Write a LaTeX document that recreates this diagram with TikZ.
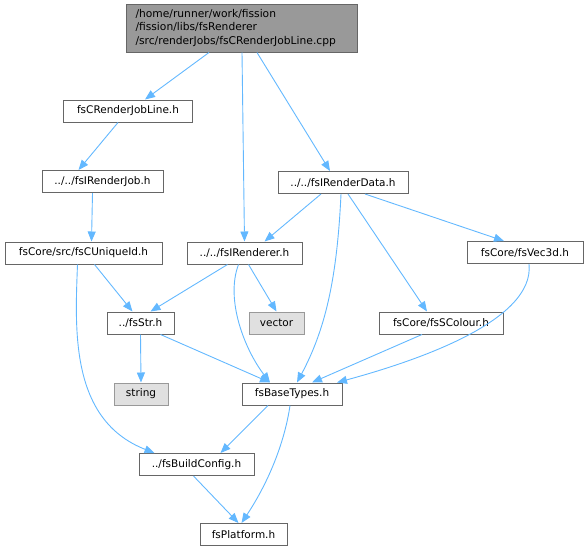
\documentclass[tikz,border=0pt]{standalone}
\usepackage{fontspec}
\setmainfont{DejaVu Sans}
\usetikzlibrary{arrows.meta}
\definecolor{edgec}{HTML}{63B8FF}
\definecolor{boxc}{HTML}{666666}
\definecolor{rootf}{HTML}{999999}
\definecolor{extf}{HTML}{E0E0E0}
\definecolor{extb}{HTML}{999999}
\tikzset{
  file/.style={draw=boxc, fill=white, line width=1pt, minimum height=22pt, inner xsep=4pt, inner ysep=0pt, font=\fontsize{10.5pt}{12pt}\selectfont, text=black},
  ext/.style={file, draw=extb, fill=extf},
  rootbox/.style={draw=boxc, fill=rootf, line width=1pt, align=left, inner xsep=9pt, inner ysep=3pt, font=\fontsize{10.7pt}{13.5pt}\selectfont},
  dep/.style={draw=edgec, line width=0.9pt, -{Triangle[length=10pt,width=8pt]}},
}
\begin{document}
\begin{tikzpicture}[x=1pt,y=-1pt]
\useasboundingbox (0,0) rectangle (588,552);
\node[rootbox, text width=213pt, minimum height=48pt] (root) at (242,28) {/home/runner/work/fission\\/fission/libs/fsRenderer\\/src/renderJobs/fsCRenderJobLine.cpp};
\node[file, minimum width=129pt] (jobline) at (128,111) {fsCRenderJobLine.h};
\node[file, minimum width=121pt] (job) at (102.5,181.5) {../../fsIRenderJob.h};
\node[file, minimum width=130pt] (data) at (343,182.5) {../../fsIRenderData.h};
\node[file, minimum width=157pt] (uid) at (83.5,253) {fsCore/src/fsCUniqueId.h};
\node[file, minimum width=115pt] (rend) at (244.5,253) {../../fsIRenderer.h};
\node[file, minimum width=116pt] (vec) at (525,252.5) {fsCore/fsVec3d.h};
\node[file, minimum width=67pt] (str) at (140.5,323) {../fsStr.h};
\node[ext, minimum width=55pt] (vector) at (276.5,323) {vector};
\node[file, minimum width=124pt] (col) at (441,323) {fsCore/fsSColour.h};
\node[ext, minimum width=54pt] (string) at (141,394) {string};
\node[file, minimum width=100pt] (base) at (292,394) {fsBaseTypes.h};
\node[file, minimum width=115pt] (build) at (196.5,464.5) {../fsBuildConfig.h};
\node[file, minimum width=87pt] (plat) at (243.5,534.5) {fsPlatform.h};

\draw[dep] ([xshift=-33pt]root.south) -- ([xshift=17pt]jobline.north);
\draw[dep] (root.south) -- (rend.north);
\draw[dep] ([xshift=15pt]root.south) -- ([xshift=-13pt]data.north);
\draw[dep] ([xshift=-10pt]jobline.south) -- ([xshift=-24pt]job.north);
\draw[dep] ([xshift=-10pt]job.south) -- ([xshift=8pt]uid.north);
\draw[dep] ([xshift=-22pt]data.south) -- ([xshift=20pt]rend.north);
\draw[dep] ([xshift=-2pt]data.south) .. controls (337,280) and (325,330) .. ([xshift=5pt]base.north);
\draw[dep] ([xshift=5pt]data.south) -- ([xshift=-14pt]col.north);
\draw[dep] ([xshift=22pt]data.south) -- ([xshift=-21pt]vec.north);
\draw[dep] ([xshift=11pt]uid.south) -- ([xshift=-8pt]str.north);
\draw[dep] ([xshift=-6pt]uid.south) .. controls (75,330) and (70,420) .. ([xshift=-42pt]build.north);
\draw[dep] ([xshift=-17pt]rend.south) -- ([xshift=10pt]str.north);
\draw[dep] ([xshift=4pt]rend.south) -- (vector.north);
\draw[dep] ([xshift=-6pt]rend.south) .. controls (225,300) and (245,350) .. ([xshift=-22pt]base.north);
\draw[dep] ([xshift=4pt]vec.south) .. controls (535,320) and (420,360) .. ([xshift=45pt]base.north);
\draw[dep] ([xshift=-19pt]col.south) -- ([xshift=20pt]base.north);
\draw[dep] (str.south) -- (string.north);
\draw[dep] ([xshift=20pt]str.south) -- ([xshift=-22pt]base.north);
\draw[dep] ([xshift=-24pt]base.south) -- ([xshift=24pt]build.north);
\draw[dep] ([xshift=-2pt]base.south) .. controls (285,440) and (270,480) .. ([xshift=-2pt]plat.north);
\draw[dep] ([xshift=-3pt]build.south) -- ([xshift=-5pt]plat.north);
\end{tikzpicture}
\end{document}
